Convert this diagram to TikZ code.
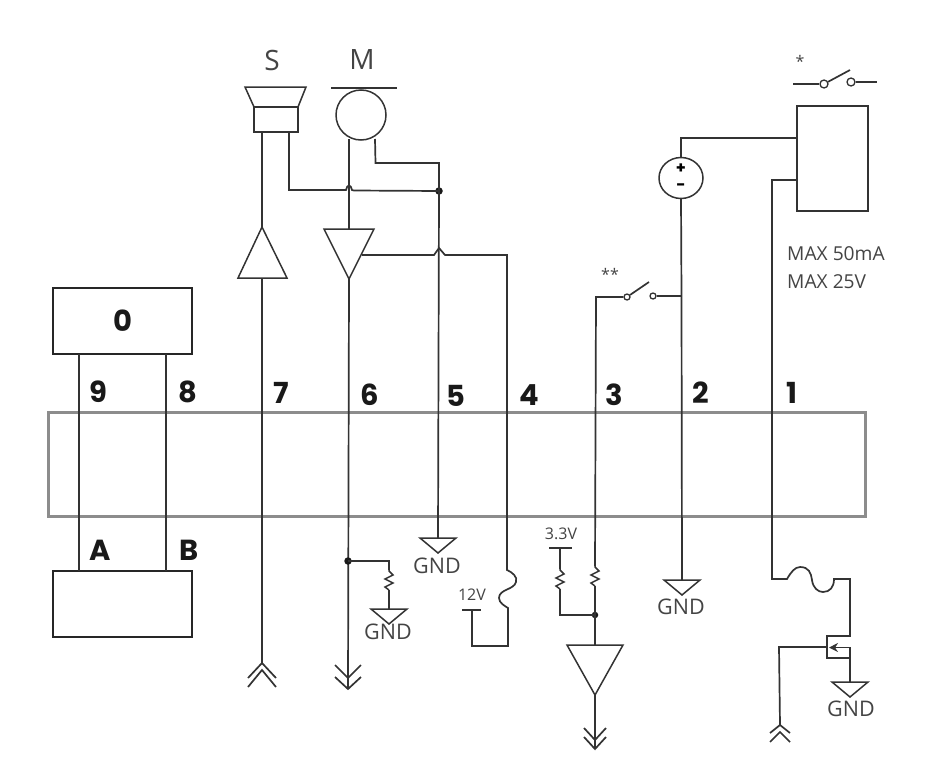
\documentclass[tikz,border=0pt]{standalone}
\usepackage{fontspec}
\setmainfont{Open Sans}
\newfontfamily\labfont{Poppins}
\usetikzlibrary{arrows.meta,shapes.geometric}
\definecolor{wire}{HTML}{333333}
\definecolor{ink}{HTML}{444444}
\definecolor{busgray}{HTML}{8C8C8C}
\tikzset{
  wirestyle/.style={draw=wire,line width=1.7pt,line join=miter},
  boxstyle/.style={draw=black!85,line width=1.8pt,minimum width=139pt,minimum height=66pt,inner sep=0pt,outer sep=0pt},
  pinlabel/.style={inner sep=0pt,text=black!90,font=\labfont\bfseries\fontsize{29}{29}\selectfont},
  gndlabel/.style={inner sep=0pt,text=ink,font=\fontsize{21.5}{22}\selectfont},
  smalllabel/.style={inner sep=0pt,text=ink,font=\fontsize{16}{16}\selectfont},
  maxlabel/.style={inner sep=0pt,anchor=west,text=ink,font=\fontsize{19.2}{19}\selectfont},
  biglabel/.style={inner sep=0pt,text=ink,font=\fontsize{28}{28}\selectfont},
  signlabel/.style={inner sep=0pt,font=\labfont\bfseries\fontsize{16}{16}\selectfont},
  dotstyle/.style={circle,fill=black!90,inner sep=0pt,minimum size=7.5pt},
  contact/.style={circle,draw=wire,line width=1.3pt,fill=white,inner sep=0pt},
  gnd/.pic={\draw[wirestyle,line width=1.5pt] (-18,0) -- (18,0) -- (0,15) -- cycle;},
  chevdown/.pic={\draw[wirestyle] (-13,-24) -- (0,-11) -- (13,-24) (-13,-12) -- (0,0) -- (13,-12);},
  chevsmall/.pic={\draw[wirestyle] (-11,-21) -- (0,-9) -- (11,-21) (-11,-12) -- (0,0) -- (11,-12);},
  chevup/.pic={\draw[wirestyle] (-14,15) -- (0,0) -- (14,15) (-14,24) -- (0,7) -- (14,24);},
  chevupsmall/.pic={\draw[wirestyle] (-10,8) -- (0,0) -- (10,8) (-10,17) -- (0,7) -- (10,17);},
  resist/.pic={\draw[wirestyle,line width=1.5pt] (0,0) -- (0,1) -- (4,5) -- (-4,9) -- (4,13) -- (-4,17) -- (0,20);},
}
\begin{document}
\begin{tikzpicture}[x=1pt,y=-1pt]
\useasboundingbox (0,0) rectangle (947,779);
% main bar and boxes
\node[draw=busgray,line width=2.8pt,minimum width=817pt,minimum height=104pt,inner sep=0pt,outer sep=0pt] (bus) at (457,464.5) {};
\node[boxstyle,pinlabel] (box0) at (122.5,321) {0};
\node[boxstyle] (box1) at (122.5,604) {};
\node[draw=wire,line width=1.5pt,minimum width=71pt,minimum height=105pt,inner sep=0pt,outer sep=0pt] (relay) at (832.5,158.5) {};
% pin labels
\node[pinlabel] (l9) at (98,392) {9};
\node[pinlabel] (l8) at (188,392) {8};
\node[pinlabel] (l7) at (281,393) {7};
\node[pinlabel] (l6) at (370,395) {6};
\node[pinlabel] (l5) at (456,396) {5};
\node[pinlabel] (l4) at (529,395) {4};
\node[pinlabel] (l3) at (614,395) {3};
\node[pinlabel] (l2) at (701,393) {2};
\node[pinlabel] (l1) at (792,393) {1};
\node[pinlabel] (la) at (100,550) {A};
\node[pinlabel] (lb) at (189,550) {B};
% wires 9 and 8
\draw[wirestyle] (box0.south -| 79,0) -- (box1.north -| 79,0);
\draw[wirestyle] (box0.south -| 166,0) -- (box1.north -| 166,0);
% speaker
\node[biglabel] (ls) at (272,60) {S};
\node[biglabel] (lm) at (362,60) {M};
\node[draw=wire,line width=1.5pt,minimum width=44pt,minimum height=25pt,inner sep=0pt,outer sep=0pt] (spk) at (276,119.5) {};
\draw[wirestyle,line width=1.5pt] (spk.north west) -- (245,87) -- (306,87) -- (spk.north east);
\coordinate (tri7tip) at (262,227);
\coordinate (tri7b) at (262,278);
\draw[wirestyle] (spk.south -| 262,0) -- (tri7tip);
\draw[wirestyle,line width=1.5pt] (tri7tip) -- (287,278) -- (238,278) -- cycle;
\coordinate (chev7) at (262,663);
\draw[wirestyle] (tri7b) -- (chev7);
\pic at (chev7) {chevup};
% microphone
\node[circle,draw=wire,line width=1.5pt,minimum size=50pt,inner sep=0pt,outer sep=0pt] (mic) at (361,115) {};
\coordinate (micbarl) at (331,88);
\coordinate (micbarr) at (397,88);
\draw[wirestyle,line width=1.5pt] (micbarl) -- (micbarr);
\coordinate (tri6l) at (324,229);
\coordinate (tri6r) at (374,229);
\coordinate (tri6tip) at (349,279);
\draw[wirestyle] (349,139) -- (349,229);
\draw[wirestyle,line width=1.5pt] (tri6l) -- (tri6r) -- (tri6tip) -- cycle;
\coordinate (chev6) at (348,689);
\draw[wirestyle] (tri6tip) -- (chev6);
\pic at (chev6) {chevdown};
% junction above pin 5
\node[dotstyle] (j5) at (439,191) {};
\coordinate (gnd5) at (438,538);
\draw[wirestyle] (375,139) -- (375.5,163) -- (439,163) -- (j5.center) -- (gnd5);
\draw[wirestyle] (spk.south -| 289,0) -- (289,190) -- (344,190) -- (346,190) .. controls (347,184) and (351,184) .. (352,190) -- (354,190.5) -- (j5.center);
\pic at (gnd5) {gnd};
\node[gndlabel] (g5) at (437,566) {GND};
% wire 4
\coordinate (tri6out) at (362,255);
\draw[wirestyle] (tri6out) -- (434,255) -- (439,248) -- (445,255) -- (507,255) -- (507,570)
  .. controls (512,572) and (518,577) .. (516,582)
  .. controls (514,590) and (499,589) .. (499,598)
  .. controls (499,603) and (505,606) .. (508,608)
  -- (508,646) -- (472,646) -- (472,610);
\coordinate (bar12l) at (462,610);
\coordinate (bar12r) at (481,610);
\draw[wirestyle] (bar12l) -- (bar12r);
\node[smalllabel] (l12) at (472,595) {12V};
% pull-down on pin 6
\node[dotstyle] (j6) at (348,561) {};
\coordinate (gnd6) at (389,609);
\draw[wirestyle] (j6.center) -- (389,561) -- (389,570);
\pic at (389,570) {resist};
\draw[wirestyle] (389,590) -- (gnd6);
\pic at (gnd6) {gnd};
\node[gndlabel] (g6) at (388,632) {GND};
% wire 3
\node[dotstyle,minimum size=6.5pt] (j3) at (595,615) {};
\coordinate (tri3l) at (567,645);
\coordinate (tri3r) at (623,645);
\coordinate (tri3tip) at (595,695);
\coordinate (sw3l) at (596,297);
\node[contact,minimum size=6pt] (sw3a) at (627,297) {};
\node[contact,minimum size=6pt] (sw3b) at (653,296) {};
\coordinate (sw3blade) at (649,282);
\draw[wirestyle] (595,566) -- (sw3l) -- (sw3a);
\draw[wirestyle] (sw3a) -- (sw3blade);
\pic at (595,566) {resist};
\draw[wirestyle] (595,586) -- (j3.center) -- (595,645);
\draw[wirestyle,line width=1.5pt] (tri3l) -- (tri3r) -- (tri3tip) -- cycle;
\coordinate (chev3) at (595,749);
\draw[wirestyle] (tri3tip) -- (chev3);
\pic at (chev3) {chevsmall};
\node[smalllabel] (l33) at (561,534) {3.3V};
\coordinate (bar33l) at (549,548);
\coordinate (bar33r) at (572,548);
\draw[wirestyle] (bar33l) -- (bar33r);
\draw[wirestyle] (560,548) -- (560,569);
\pic at (560,569) {resist};
\draw[wirestyle] (560,589) -- (560,615) -- (j3.center);
\node[smalllabel] (star2) at (610,274) {**};
% wire 2 and source
\node[draw=wire,line width=1.5pt,ellipse,minimum width=44pt,minimum height=41pt,inner sep=0pt,outer sep=0pt] (src) at (681,178) {};
\node[signlabel] (plus) at (681,169) {+};
\node[signlabel] (minus) at (681,187.5) {-};
\coordinate (gnd2) at (682,580);
\draw[wirestyle] (src.south) -- (681.5,296) -- (gnd2);
\draw[wirestyle] (sw3b) -- (681.5,296);
\pic at (gnd2) {gnd};
\node[gndlabel] (g2) at (681,607) {GND};
\draw[wirestyle] (src.north) -- (681,138) -- (relay.west |- 0,138);
% wire 1
\coordinate (gnd1) at (850,682);
\draw[wirestyle] (relay.west |- 0,180) -- (772,180) -- (772,579) -- (787,579)
  .. controls (791,572) and (795,567) .. (800,567)
  .. controls (809,567) and (811,573) .. (812,580)
  .. controls (813,588) and (818,592) .. (823,592)
  .. controls (830,592) and (834,587) .. (834,579)
  -- (850,579) -- (850,636) -- (827,636) -- (827,658) -- (850,658);
\draw[wirestyle] (850,647) -- (gnd1);
\draw[wirestyle,-{Stealth[length=9pt,width=9pt]}] (850,647.5) -- (829,647.5);
\coordinate (chev1) at (780,725);
\draw[wirestyle] (827,647) -- (779,647) -- (chev1);
\pic at (chev1) {chevupsmall};
\pic at (gnd1) {gnd};
\node[gndlabel] (g1) at (851,709) {GND};
% relay switch
\node[contact,minimum size=8pt] (swa) at (824,84) {};
\node[contact,minimum size=8pt] (swb) at (851,82) {};
\coordinate (swl) at (793,84);
\coordinate (swr) at (877,82);
\coordinate (swblade) at (850,70);
\draw[wirestyle] (swl) -- (swa);
\draw[wirestyle] (swa) -- (swblade);
\draw[wirestyle] (swb) -- (swr);
\node[smalllabel] (star1) at (800,61) {*};
\node[maxlabel] (m1) at (787,254) {MAX 50mA};
\node[maxlabel] (m2) at (787,282) {MAX 25V};
\end{tikzpicture}
\end{document}
